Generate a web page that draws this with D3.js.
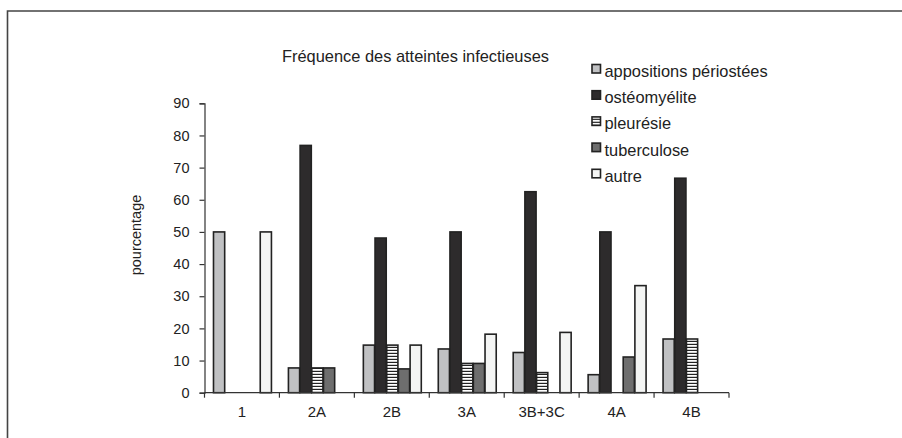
<!DOCTYPE html>
<html>
<head>
<meta charset="utf-8">
<script src="https://cdn.jsdelivr.net/npm/d3@7/dist/d3.min.js"></script>
<style>
  html, body { margin: 0; padding: 0; background: #fff; }
  svg { display: block; font-family: "Liberation Sans", Arial, sans-serif; }
</style>
</head>
<body>
<svg id="chart" width="902" height="438"></svg>
<script>
// Groups (x axis) and the five infection types (series)
const categories = ["1", "2A", "2B", "3A", "3B+3C", "4A", "4B"];
const seriesNames = ["appositions périostées", "ostéomyélite", "pleurésie", "tuberculose", "autre"];

// Percentages per group, one array per series
const appositions = [50, 7.7, 14.8, 13.6, 12.5, 5.6, 16.7];
const osteomyelite = [0, 76.9, 48.1, 50, 62.5, 50, 66.7];
const pleuresie = [0, 7.7, 14.8, 9.1, 6.25, 0, 16.7];
const tuberculose = [0, 7.7, 7.4, 9.1, 0, 11.1, 0];
const autre = [50, 0, 14.8, 18.2, 18.75, 33.3, 0];

const yTicks = [0, 10, 20, 30, 40, 50, 60, 70, 80, 90];

const seriesValues = [appositions, osteomyelite, pleuresie, tuberculose, autre];
const fills = ["#c0c1c3", "#2d2b2c", "url(#stripes)", "#6e6e6e", "#f4f5f4"];

const svg = d3.select("#chart");

// Horizontal stripe pattern for pleurésie
const defs = svg.append("defs");
const pat = defs.append("pattern")
  .attr("id", "stripes")
  .attr("patternUnits", "userSpaceOnUse")
  .attr("width", 6).attr("height", 3);
pat.append("rect").attr("width", 6).attr("height", 3).attr("fill", "#ffffff");
pat.append("rect").attr("y", 1.8).attr("width", 6).attr("height", 1.2).attr("fill", "#222");

// Outer frame
svg.append("path")
  .attr("d", "M7.5,440 L7.5,11 L904,11")
  .attr("fill", "none")
  .attr("stroke", "#444")
  .attr("stroke-width", 1.6);

const plot = { left: 204.5, right: 729, top: 103.3, bottom: 392.7 };

const x0 = d3.scaleBand().domain(categories).range([plot.left, plot.right]).padding(0);
const gap = x0.bandwidth() * 0.11;
const x1 = d3.scaleBand().domain(d3.range(seriesNames.length))
  .range([gap, x0.bandwidth() - gap]).padding(0);
const y = d3.scaleLinear().domain([0, 90]).range([plot.bottom, plot.top]);

// Bars
const groups = svg.append("g").selectAll("g")
  .data(categories)
  .join("g")
  .attr("transform", d => `translate(${x0(d)},0)`);

groups.selectAll("rect")
  .data((c, ci) => seriesValues.map((vals, si) => ({ si, v: vals[ci] })).filter(d => d.v > 0))
  .join("rect")
  .attr("x", d => x1(d.si) + 0.75)
  .attr("width", x1.bandwidth() - 0.5)
  .attr("y", d => y(d.v))
  .attr("height", d => y(0) - y(d.v))
  .attr("fill", d => fills[d.si])
  .attr("stroke", "#222")
  .attr("stroke-width", 1.6);

// Y axis
const yAxis = svg.append("g")
  .attr("transform", `translate(${plot.left},0)`)
  .call(d3.axisLeft(y).tickValues(yTicks).tickSize(5).tickPadding(10));
yAxis.select(".domain").attr("stroke", "#333").attr("stroke-width", 1.2);
yAxis.selectAll(".tick line").attr("stroke", "#333").attr("stroke-width", 1.2);
yAxis.selectAll("text").attr("font-size", 14.5).attr("fill", "#222")
  .attr("font-family", "Liberation Sans, Arial, sans-serif");

// X axis with tick marks at the group boundaries
const xAxis = svg.append("g").attr("transform", `translate(0,${plot.bottom})`);
xAxis.append("line")
  .attr("x1", plot.left).attr("x2", plot.right)
  .attr("stroke", "#333").attr("stroke-width", 1.2);
xAxis.selectAll("line.tk")
  .data(categories.concat(["end"]))
  .join("line")
  .attr("class", "tk")
  .attr("x1", (d, i) => plot.left + i * x0.step())
  .attr("x2", (d, i) => plot.left + i * x0.step())
  .attr("y1", 0).attr("y2", 5)
  .attr("stroke", "#333").attr("stroke-width", 1.2);
xAxis.selectAll("text")
  .data(categories)
  .join("text")
  .attr("x", d => x0(d) + x0.bandwidth() / 2)
  .attr("y", 24)
  .attr("text-anchor", "middle")
  .attr("font-size", 15)
  .attr("fill", "#222")
  .text(d => d);

// Y axis title
svg.append("text")
  .attr("transform", "translate(141,235) rotate(-90)")
  .attr("text-anchor", "middle")
  .attr("font-size", 14.5)
  .attr("fill", "#222")
  .text("pourcentage");

// Chart title
svg.append("text")
  .attr("x", 415.5)
  .attr("y", 61.5)
  .attr("text-anchor", "middle")
  .attr("font-size", 16.4)
  .attr("fill", "#222")
  .text("Fréquence des atteintes infectieuses");

// Legend
const legend = svg.append("g").selectAll("g")
  .data(seriesNames)
  .join("g")
  .attr("transform", (d, i) => `translate(592,${64.5 + i * 26.2})`);
legend.append("rect")
  .attr("width", 8.5).attr("height", 8.5)
  .attr("fill", (d, i) => fills[i])
  .attr("stroke", "#222").attr("stroke-width", 1.6);
legend.append("text")
  .attr("x", 12.5)
  .attr("y", 12.5)
  .attr("font-size", 16.4)
  .attr("fill", "#222")
  .text(d => d);
</script>
</body>
</html>
